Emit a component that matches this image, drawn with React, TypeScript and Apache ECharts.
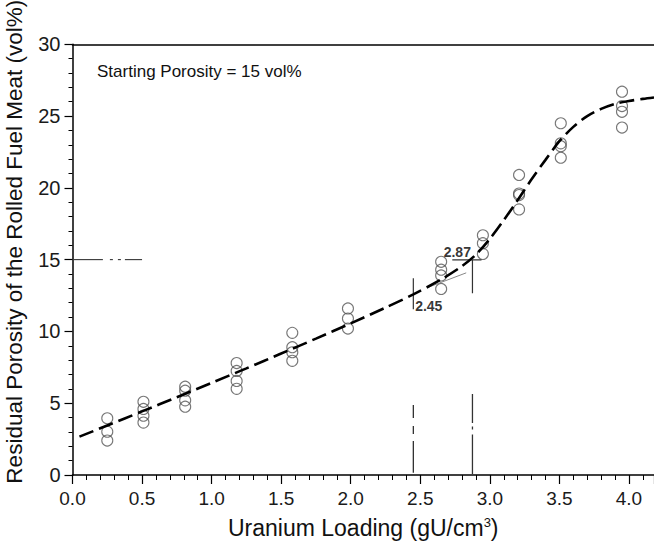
import React, { useEffect, useRef } from 'react';
import * as echarts from 'echarts';

// Measured uranium loadings (gU/cm3) of each group of samples
const loadings = [0.25, 0.51, 0.81, 1.18, 1.58, 1.98, 2.65, 2.95, 3.21, 3.51, 3.95];
// Residual porosity (vol%) of the samples in each group
const porosities = [
  [3.95, 3.02, 2.4],
  [5.1, 4.6, 4.13, 3.65],
  [6.15, 5.87, 5.2, 4.76],
  [7.8, 7.25, 6.55, 6.0],
  [9.9, 8.9, 8.55, 7.95],
  [11.6, 10.9, 10.2],
  [14.85, 14.3, 13.9, 12.96],
  [16.7, 16.15, 15.4],
  [20.9, 19.6, 19.5, 18.5],
  [24.5, 23.1, 22.9, 22.1],
  [26.7, 25.7, 25.3, 24.2],
];

// Fitted trend curve
const fitX = [0.05, 0.25, 0.5, 0.75, 1.0, 1.25, 1.5, 1.75, 2.0, 2.25, 2.45, 2.65, 2.8, 2.9, 3.0, 3.1, 3.2, 3.3, 3.4, 3.5, 3.6, 3.7, 3.8, 3.9, 4.0, 4.1, 4.18];
const fitY = [2.67, 3.45, 4.43, 5.42, 6.42, 7.43, 8.46, 9.5, 10.56, 11.66, 12.58, 13.62, 14.55, 15.35, 16.45, 17.75, 19.15, 20.6, 21.95, 23.25, 24.25, 25.0, 25.5, 25.85, 26.05, 26.2, 26.3];

// Annotation values
const startingPorosity = 15;
const startRefX = [0.01, 0.5];
const onsetLoading = 2.45;
const breakLoading = 2.875;
const onsetLowY = [4.88, 0.16];
const breakLowY = [5.64, 0.07];
const onsetUpY = [13.7, 11.55];
const breakUpY = [15.0, 12.66];
const breakHX = [2.73, 2.94];
const tangentX = [2.55, 2.83];
const tangentY = [13.05, 14.08];
const labelTexts = ['2.45', '2.87'];
const labelX = [2.561, 2.766];
const labelY = [11.78, 15.56];

const FONT = "'Liberation Sans', Arial, Helvetica, sans-serif";

export default function App() {
  const ref = useRef<HTMLDivElement>(null);

  useEffect(() => {
    if (!ref.current) return;
    const chart = echarts.init(ref.current, undefined, { renderer: 'svg' });

    const scatterData: number[][] = [];
    loadings.forEach((x, i) => porosities[i].forEach((y) => scatterData.push([x, y])));

    const fitData = fitX.map((x, i) => [x, fitY[i]]);

    const thinLine = (name: string, data: number[][], color: string, width: number, type: any) => ({
      name,
      type: 'line',
      data,
      symbol: 'none',
      silent: true,
      z: 3,
      lineStyle: { color, width, type },
    });

    chart.setOption({
      animation: false,
      textStyle: { fontFamily: FONT },
      grid: { left: 72.5, top: 44.3, right: 0, bottom: 73, containLabel: false, outerBoundsMode: 'none' },
      graphic: [
        {
          type: 'text',
          left: 97,
          top: 63,
          style: { text: 'Starting Porosity = 15 vol%', fontSize: 17, fill: '#111', fontFamily: FONT },
        },
      ],
      xAxis: [
        {
          type: 'value',
          min: 0,
          max: 4.18,
          interval: 0.5,
          axisLine: { show: true, lineStyle: { color: '#000', width: 1.5 } },
          axisTick: { show: true, length: 9, lineStyle: { color: '#000', width: 1.2 } },
          minorTick: { show: true, splitNumber: 5, length: 5, lineStyle: { color: '#000', width: 1 } },
          splitLine: { show: false },
          minorSplitLine: { show: false },
          axisLabel: {
            fontSize: 19,
            color: '#1a1a1a',
            margin: 14,
            showMaxLabel: false,
            fontFamily: FONT,
            formatter: (v: number) => v.toFixed(1),
          },
          name: 'Uranium Loading (gU/cm{sup|3})',
          nameLocation: 'middle',
          nameGap: 41,
          nameTextStyle: {
            fontSize: 23,
            color: '#111',
            fontFamily: FONT,
            rich: { sup: { fontSize: 13, verticalAlign: 'top', color: '#111', fontFamily: FONT } },
          },
        },
        {
          type: 'value',
          position: 'top',
          min: 0,
          max: 4.18,
          axisLine: { show: true, onZero: false, lineStyle: { color: '#000', width: 1.5 } },
          axisTick: { show: false },
          axisLabel: { show: false },
          splitLine: { show: false },
        },
      ],
      yAxis: {
        type: 'value',
        min: 0,
        max: 30,
        interval: 5,
        axisLine: { show: true, lineStyle: { color: '#000', width: 1.5 } },
        axisTick: { show: true, length: 8, lineStyle: { color: '#000', width: 1.2 } },
        minorTick: { show: true, splitNumber: 5, length: 4, lineStyle: { color: '#000', width: 1 } },
        splitLine: { show: false },
        minorSplitLine: { show: false },
        axisLabel: { fontSize: 20, color: '#1a1a1a', margin: 12, fontFamily: FONT },
        name: 'Residual Porosity of the Rolled Fuel Meat (vol%)',
        nameLocation: 'middle',
        nameGap: 47,
        nameTextStyle: { fontSize: 22.5, color: '#111', fontFamily: FONT, padding: [0, 0, 0, 36] },
      },
      series: [
        {
          name: 'samples',
          type: 'scatter',
          data: scatterData,
          symbol: 'circle',
          symbolSize: 11,
          z: 2,
          itemStyle: { color: 'rgba(255,255,255,0)', borderColor: '#555', borderWidth: 1.1 },
        },
        {
          name: 'fit',
          type: 'line',
          data: fitData,
          smooth: 0.3,
          symbol: 'none',
          z: 4,
          lineStyle: { color: '#000', width: 2.6, type: [15, 6] },
        },
        thinLine('start', startRefX.map((x) => [x, startingPorosity]), '#222', 1, [29, 7, 3, 5, 3, 4, 19]),
        thinLine('onsetLow', onsetLowY.map((y) => [onsetLoading, y]), '#333', 1.3, [13, 8, 8, 7, 40]),
        thinLine('breakLow', breakLowY.map((y) => [breakLoading, y]), '#333', 1.3, [29, 3.5, 3, 5, 45]),
        thinLine('onsetUp', onsetUpY.map((y) => [onsetLoading, y]), '#333', 1.2, 'solid'),
        thinLine('breakUp', breakUpY.map((y) => [breakLoading, y]), '#333', 1.2, 'solid'),
        thinLine('breakH', breakHX.map((x) => [x, 14.98]), '#333', 1.2, 'solid'),
        thinLine('tangent', tangentX.map((x, i) => [x, tangentY[i]]), '#888', 1, 'solid'),
        {
          name: 'labels',
          type: 'scatter',
          symbolSize: 0,
          silent: true,
          z: 5,
          data: labelTexts.map((t, i) => [labelX[i], labelY[i], t]),
          label: {
            show: true,
            position: 'inside',
            formatter: (p: any) => p.data[2],
            fontSize: 14,
            fontWeight: 'bold',
            color: '#000',
            fontFamily: FONT,
          },
        },
      ],
    });

    return () => chart.dispose();
  }, []);

  return (
    <div
      ref={ref}
      style={{ position: 'fixed', left: 0, top: 0, width: 654, height: 548, background: '#fff' }}
    />
  );
}
